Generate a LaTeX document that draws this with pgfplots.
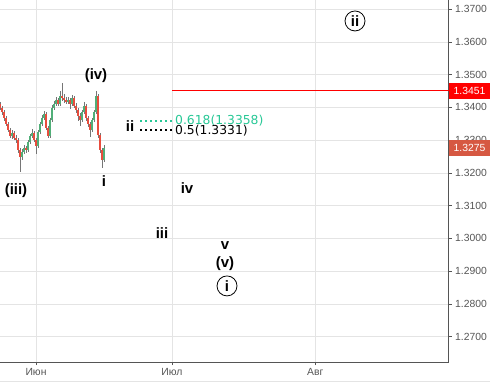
\documentclass[border=0pt]{standalone}
\usepackage{pgfplots}
\pgfplotsset{compat=1.18}
\usepackage{pgfplotstable}
\usepackage{fontspec}
\setmainfont{Liberation Sans}
\newfontfamily\dejavu{DejaVu Sans}

\definecolor{upc}{RGB}{80,175,120}
\definecolor{dnc}{RGB}{232,76,61}
\definecolor{wick}{RGB}{118,118,118}
\definecolor{gridc}{RGB}{228,228,228}
\definecolor{axc}{RGB}{85,85,85}
\definecolor{fibg}{RGB}{40,200,150}
\definecolor{lastc}{RGB}{214,88,66}

\pgfplotstableread{
x o h l c
0 1.3410 1.3418 1.3391 1.3399
2 1.3399 1.3405 1.3378 1.3386
4 1.3386 1.3392 1.3360 1.3368
6 1.3368 1.3374 1.3343 1.3350
8 1.3350 1.3356 1.3324 1.3331
10 1.3331 1.3338 1.3306 1.3313
12 1.3313 1.3330 1.3305 1.3322
14 1.3322 1.3328 1.3300 1.3307
16 1.3307 1.3316 1.3293 1.3301
18 1.3301 1.3306 1.3262 1.3270
20 1.3270 1.3276 1.3203 1.3249
22 1.3249 1.3272 1.3240 1.3264
24 1.3264 1.3284 1.3257 1.3276
26 1.3276 1.3283 1.3262 1.3270
28 1.3270 1.3302 1.3264 1.3295
30 1.3295 1.3320 1.3289 1.3313
32 1.3313 1.3333 1.3306 1.3322
34 1.3322 1.3328 1.3294 1.3301
36 1.3301 1.3307 1.3258 1.3282
38 1.3282 1.3331 1.3276 1.3325
40 1.3325 1.3357 1.3318 1.3350
42 1.3350 1.3376 1.3343 1.3368
44 1.3368 1.3390 1.3361 1.3380
46 1.3380 1.3386 1.3330 1.3337
48 1.3337 1.3342 1.3306 1.3313
50 1.3313 1.3369 1.3308 1.3362
52 1.3362 1.3406 1.3355 1.3399
54 1.3399 1.3420 1.3392 1.3411
56 1.3411 1.3433 1.3404 1.3423
58 1.3423 1.3430 1.3403 1.3411
60 1.3411 1.3450 1.3405 1.3435
62 1.3435 1.3475 1.3420 1.3429
64 1.3429 1.3440 1.3414 1.3423
66 1.3423 1.3431 1.3409 1.3417
68 1.3417 1.3432 1.3410 1.3423
70 1.3423 1.3430 1.3395 1.3411
72 1.3411 1.3437 1.3405 1.3429
74 1.3429 1.3435 1.3398 1.3405
76 1.3405 1.3412 1.3384 1.3392
78 1.3392 1.3399 1.3360 1.3374
80 1.3374 1.3382 1.3342 1.3362
82 1.3362 1.3393 1.3355 1.3386
84 1.3386 1.3418 1.3380 1.3405
86 1.3405 1.3410 1.3360 1.3368
88 1.3368 1.3374 1.3340 1.3350
90 1.3350 1.3356 1.3310 1.3331
92 1.3331 1.3369 1.3325 1.3362
94 1.3362 1.3393 1.3355 1.3386
96 1.3386 1.3451 1.3380 1.3435
98 1.3435 1.3440 1.3308 1.3316
100 1.3316 1.3322 1.3262 1.3270
102 1.3270 1.3276 1.3215 1.3240
104 1.3240 1.3285 1.3233 1.3275
}\candles

\begin{document}
\begin{tikzpicture}[x=1bp,y=1bp]
\begin{axis}[
  at={(0,0)}, anchor=south west,
  scale only axis, width=448.7bp, height=362bp,
  xmin=0, xmax=448.7, ymin=1.26227, ymax=1.3728,
  axis x line*=bottom, axis y line*=right,
  axis line style={axc, line width=0.8bp},
  xtick={36,172,315.3}, xticklabels={Июн,Июл,Авг},
  ytick={1.27,1.28,1.29,1.30,1.31,1.32,1.33,1.34,1.35,1.36,1.37},
  scaled y ticks=false,
  grid=major, major grid style={gridc, line width=0.8bp},
  tick align=outside, major tick length=3bp,
  tick style={axc, line width=0.8bp},
  ticklabel style={font=\fontsize{10.4}{12}\selectfont, text=axc},
  yticklabel style={/pgf/number format/.cd, fixed, fixed zerofill, precision=4, assume math mode=true},
  clip=false,
]
% wicks
\addplot[draw=none, mark=none, error bars/.cd, y dir=both, y explicit, error mark=none,
  error bar style={draw=wick, line width=0.7bp}]
  table[x=x, y expr={(\thisrow{h}+\thisrow{l})/2}, y error expr={(\thisrow{h}-\thisrow{l})/2}] {\candles};
% up bodies
\addplot[draw=none, mark=none, restrict expr to domain={\thisrow{c}-\thisrow{o}}{0:1},
  error bars/.cd, y dir=both, y explicit, error mark=none,
  error bar style={draw=upc, line width=1.7bp}]
  table[x=x, y expr={(\thisrow{o}+\thisrow{c})/2}, y error expr={abs(\thisrow{c}-\thisrow{o})/2}] {\candles};
% down bodies
\addplot[draw=none, mark=none, restrict expr to domain={\thisrow{c}-\thisrow{o}}{-1:0},
  error bars/.cd, y dir=both, y explicit, error mark=none,
  error bar style={draw=dnc, line width=1.7bp}]
  table[x=x, y expr={(\thisrow{o}+\thisrow{c})/2}, y error expr={abs(\thisrow{c}-\thisrow{o})/2}] {\candles};

% resistance line
\addplot[red, line width=0.9bp] coordinates {(172,1.3451) (448.7,1.3451)};
% fib lines
\addplot[fibg, line width=1.6bp, dash pattern=on 1.6bp off 3.4bp] coordinates {(140,1.3358) (172,1.3358)};
\addplot[black, line width=1.6bp, dash pattern=on 1.6bp off 3.4bp] coordinates {(140,1.3331) (172,1.3331)};
\node[anchor=west, text=fibg, font=\dejavu\fontsize{12.4}{14}\selectfont, inner sep=0] at (axis cs:175,1.3361) {0.618(1.3358)};
\node[anchor=west, text=black, font=\dejavu\fontsize{12.4}{14}\selectfont, inner sep=0] at (axis cs:175,1.3328) {0.5(1.3331)};

% wave labels
\begin{scope}[every node/.style={font=\bfseries\fontsize{15}{17}\selectfont, inner sep=0}]
\node at (axis cs:96,1.3496) {(iv)};
\node at (axis cs:16,1.3145) {(iii)};
\node at (axis cs:104,1.3176) {i};
\node at (axis cs:130,1.3344) {ii};
\node at (axis cs:187,1.3154) {iv};
\node at (axis cs:162,1.3017) {iii};
\node at (axis cs:225,1.2977) {v};
\node at (axis cs:225,1.2922) {(v)};
\node[circle, draw, line width=0.8bp, minimum size=20bp] at (axis cs:227,1.2855) {i};
\node[circle, draw, line width=0.8bp, minimum size=20bp] at (axis cs:355,1.3664) {ii};
\end{scope}

\coordinate (r1) at (axis cs:448.7,1.3451);
\coordinate (r2) at (axis cs:448.7,1.3275);
\end{axis}
\node[anchor=west, fill=red, text=white, minimum height=16bp, minimum width=41.3bp, inner sep=0, font=\fontsize{10.4}{12}\selectfont] at (r1) {1.3451};
\node[anchor=west, fill=lastc, text=white, minimum height=16bp, minimum width=41.3bp, inner sep=0, font=\fontsize{10.4}{12}\selectfont] at (r2) {1.3275};
\draw[gridc, line width=0.8bp] (0,-19) -- (490,-19);
\pgfresetboundingbox
\useasboundingbox (0,-23) rectangle (490,362);
\end{tikzpicture}
\end{document}
